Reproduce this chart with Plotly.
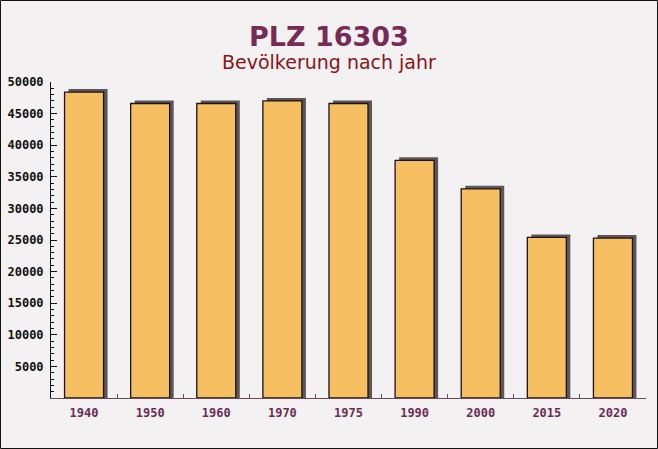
import plotly.graph_objects as go

years = ["1940", "1950", "1960", "1970", "1975", "1990", "2000", "2015", "2020"]
population = [48400, 46600, 46600, 47000, 46600, 37600, 33100, 25400, 25300]
y_ticks = [5000, 10000, 15000, 20000, 25000, 30000, 35000, 40000, 45000, 50000]

title_text = "PLZ 16303"
subtitle_text = "Bevölkerung nach jahr"

W, H = 658, 449
ML, MR, MT, MB = 51, 12, 82, 51
PW, PH = W - ML - MR, H - MT - MB
YMAX = 50000

bar_w = 0.59
shadow_dx = 4.0 / (PW / len(years))
shadow_dy = 3.0 / PH * YMAX
cx = (W / 2 - ML) / PW

fig = go.Figure()
fig.add_trace(go.Bar(
    x=years, y=[v + shadow_dy for v in population],
    width=bar_w, offset=-bar_w / 2 + shadow_dx,
    marker=dict(color="#5c5559", line=dict(width=0)),
    hoverinfo="skip", showlegend=False,
))
fig.add_trace(go.Bar(
    x=years, y=population,
    width=bar_w, offset=-bar_w / 2,
    marker=dict(color="#f6c062", line=dict(color="#1e1214", width=1.3)),
    showlegend=False,
))

fig.update_layout(
    width=W, height=H,
    margin=dict(l=ML, r=MR, t=MT, b=MB, pad=0, autoexpand=False),
    barmode="overlay",
    paper_bgcolor="#f3f1f2",
    plot_bgcolor="rgba(0,0,0,0)",
    annotations=[
        dict(text=title_text, xref="paper", yref="paper", x=cx, y=1 + (MT - 37) / PH,
             xanchor="center", yanchor="middle", showarrow=False,
             font=dict(family="DejaVu Sans", size=27, color="#782a56", weight="bold")),
        dict(text=subtitle_text, xref="paper", yref="paper", x=cx, y=1 + (MT - 62) / PH,
             xanchor="center", yanchor="middle", showarrow=False,
             font=dict(family="DejaVu Sans", size=19, color="#8a1418")),
    ],
    shapes=[
        dict(type="rect", xref="paper", yref="paper",
             x0=-(ML - 0.5) / PW, x1=1 + (MR - 0.5) / PW,
             y0=-(MB - 0.5) / PH, y1=1 + (MT - 0.5) / PH,
             line=dict(color="#111111", width=1), fillcolor="rgba(0,0,0,0)", layer="above"),
    ],
)

fig.update_yaxes(
    range=[0, YMAX], tickvals=y_ticks, ticktext=[str(v) for v in y_ticks],
    showgrid=False, zeroline=False, automargin=False,
    showline=True, linecolor="#111111", linewidth=1,
    ticks="inside", ticklen=6, tickcolor="#111111",
    minor=dict(dtick=1000, ticks="inside", ticklen=3, tickcolor="#111111"),
    tickfont=dict(family="DejaVu Sans Mono", size=12, color="#111111", weight="bold"),
    ticklabelstandoff=4,
)
fig.update_xaxes(
    showgrid=False, showline=True, linecolor="#6a4a5e", linewidth=1, automargin=False,
    ticks="inside", ticklen=4, tickcolor="#6a4a5e", tickson="boundaries",
    tickfont=dict(family="DejaVu Sans Mono", size=12, color="#6b2b55", weight="bold"),
    ticklabelstandoff=4,
)

fig.write_html("out.html")
